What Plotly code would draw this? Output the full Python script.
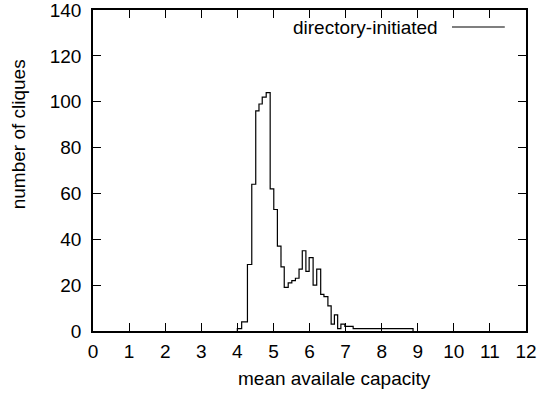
import plotly.graph_objects as go

# Histogram of cliques by mean available capacity (left edge of each step, count)
bin_edges = [4.00, 4.12, 4.28, 4.40, 4.51, 4.60, 4.69, 4.80, 4.91, 5.01, 5.11,
             5.21, 5.30, 5.41, 5.51, 5.61, 5.71, 5.80, 5.90, 5.99, 6.10, 6.20,
             6.31, 6.40, 6.51, 6.60, 6.69, 6.78, 6.87, 6.98, 7.21, 8.87]
clique_counts = [1, 4, 29, 64, 96, 99, 102, 104, 62, 53, 37,
                 28, 19, 21, 22, 23, 27, 35, 26, 32, 20, 27,
                 16, 15, 11, 3, 7, 1, 3, 2, 1, 0]

x_ticks = list(range(0, 13))
y_ticks = list(range(0, 141, 20))
series_name = "directory-initiated"

FONT = "Liberation Sans, Arial, Helvetica, sans-serif"
FS = 19

fig = go.Figure()
fig.add_trace(go.Scatter(
    x=[bin_edges[0]] + bin_edges,
    y=[0] + clique_counts,
    mode="lines",
    line=dict(color="black", width=1.2, shape="hv"),
    showlegend=False,
))

axis_common = dict(
    showline=True, linecolor="black", linewidth=1.5, mirror="ticks",
    ticks="inside", ticklen=8, tickwidth=1, tickcolor="black",
    showgrid=False, zeroline=False, automargin=False,
    ticklabeloverflow="allow",
    tickfont=dict(family=FONT, size=FS, color="black"),
)
fig.update_xaxes(range=[0, 12], tickvals=x_ticks, ticklabelstandoff=2,
                 **axis_common)
fig.update_yaxes(range=[0, 140], tickvals=y_ticks, ticklabelstandoff=6,
                 **axis_common)

# gnuplot-style key: label on the left, line sample on the right
fig.add_annotation(xref="paper", yref="paper", x=0.801, y=0.947,
                   text=series_name, showarrow=False, xanchor="right",
                   yanchor="middle", font=dict(family=FONT, size=FS, color="black"))
fig.add_shape(type="line", xref="paper", yref="paper", x0=0.829, x1=0.951,
              y0=0.947, y1=0.947, line=dict(color="black", width=1.2))

# axis titles
fig.add_annotation(xref="paper", yref="paper", x=0.557, y=-0.148,
                   text="mean availale capacity", showarrow=False,
                   xanchor="center", yanchor="middle",
                   font=dict(family=FONT, size=FS, color="black"))
fig.add_annotation(xref="paper", yref="paper", x=-0.173, y=0.613,
                   text="number of cliques", showarrow=False, textangle=-90,
                   xanchor="center", yanchor="middle",
                   font=dict(family=FONT, size=FS, color="black"))

fig.update_layout(
    width=540, height=394,
    margin=dict(l=93, r=14, t=10, b=63),
    plot_bgcolor="white", paper_bgcolor="white",
    showlegend=False,
)

fig.write_html("out.html")
